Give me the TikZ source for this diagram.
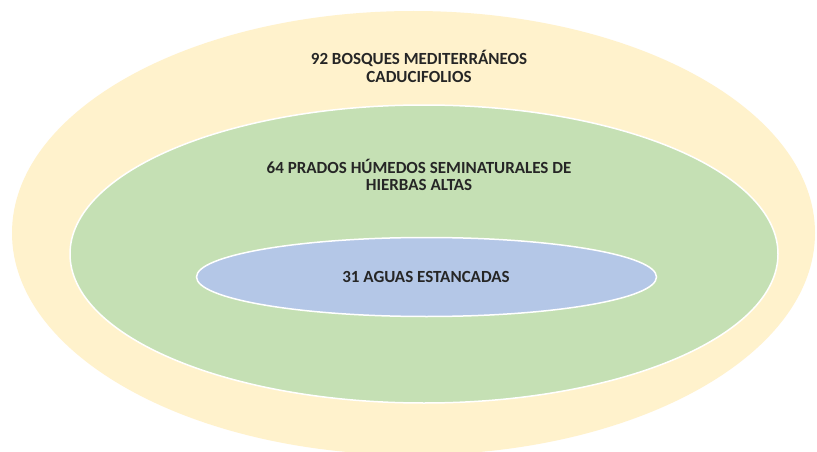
\documentclass[tikz,border=0pt]{standalone}
\usepackage{fontspec}
\setmainfont{Carlito}
\definecolor{cream}{HTML}{FFF2CC}
\definecolor{lgreen}{HTML}{C5E0B4}
\definecolor{lblue}{HTML}{B4C7E7}
\begin{document}
\begin{tikzpicture}[x=1pt,y=-1pt,
  lbl/.style={font=\bfseries\fontsize{17}{17.5}\selectfont, text=black!85, align=center, inner sep=0pt},
  zone/.style={draw=white, line width=1.5pt}]
\useasboundingbox[fill=white] (0,0) rectangle (817,452);
\fill[cream] (413.5,233) ellipse [x radius=401.5, y radius=222];
\filldraw[zone, fill=lgreen] (424,254) ellipse [x radius=354, y radius=149];
\filldraw[zone, fill=lblue] (426.5,277) ellipse [x radius=230, y radius=39.5];
\node[lbl] (t92) at (419,66.5) {92 BOSQUES MEDITERRÁNEOS\\CADUCIFOLIOS};
\node[lbl] (t64) at (419,175) {64 PRADOS HÚMEDOS SEMINATURALES DE\\HIERBAS ALTAS};
\node[lbl] (t31) at (426,277) {31 AGUAS ESTANCADAS};
\end{tikzpicture}
\end{document}
